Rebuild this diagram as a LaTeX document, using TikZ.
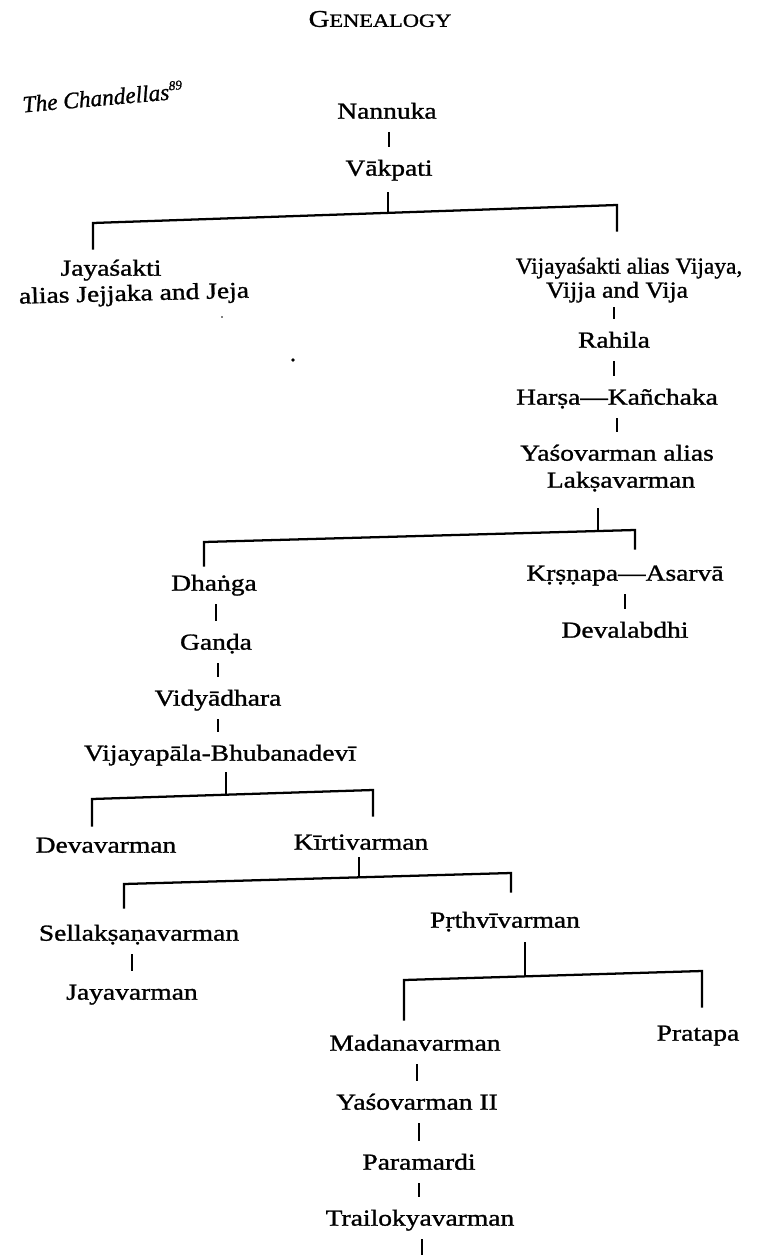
\documentclass[tikz,border=0pt]{standalone}
\usepackage{graphicx}
\usepackage{fontspec}
\setmainfont{Liberation Serif}[FakeStretch=1.2, FakeBold=1.2]
\newfontfamily\plainserif{Liberation Serif}[FakeBold=1.0]
\begin{document}
\begin{tikzpicture}[x=0.75pt,y=-0.75pt,
  person/.style={font=\fontsize{17.2}{18}\selectfont, inner sep=0pt, text height=11.5pt, text depth=0pt},
  link/.style={line width=1.7pt, shorten <=9.8pt, shorten >=9.8pt},
  bline/.style={line width=1.7pt}]
\useasboundingbox (0,0) rectangle (758,1255);

% title
\node[inner sep=0pt] (title) at (380,19) {\fontsize{18}{20}\selectfont G\fontsize{14}{16}\selectfont ENEALOGY};
\node[anchor=base west, rotate=5, inner sep=0pt] (chand) at (23,112.5)
  {\plainserif\itshape\fontsize{17.5}{20}\selectfont The Chandellas\raisebox{7pt}{\fontsize{10}{10}\selectfont 89}};

% people
\node[person] (nannuka) at (387,111) {Nannuka};
\node[person] (vakpati) at (389,168) {Vākpati};
\node[person] (jaya) at (111,268) {Jayaśakti};
\node[person, rotate=1.5] (jayaB) at (134,293) {alias Jejjaka and Jeja};
\node[person] (vija) at (629,266) {\scalebox{0.85}[1]{Vijayaśakti alias Vijaya,}};
\node[person] (vijaB) at (617,290) {\scalebox{0.93}[1]{Vijja and Vija}};
\node[person] (rahila) at (614,340) {Rahila};
\node[person] (harsa) at (617,397) {Harṣa—Kañchaka};
\node[person] (yaso) at (617,453) {Yaśovarman alias};
\node[person] (yasoB) at (621,480) {Lakṣavarman};
\node[person] (dhanga) at (214,583) {Dhaṅga};
\node[person] (ganda) at (216,642) {Ganḍa};
\node[person] (vidya) at (218,698) {Vidyādhara};
\node[person] (vijayapala) at (220,753) {Vijayapāla-Bhubanadevī};
\node[person] (krsna) at (625,573) {Kṛṣṇapa—Asarvā};
\node[person] (devalabdhi) at (625,630) {Devalabdhi};
\node[person] (devavarman) at (106,845) {Devavarman};
\node[person] (kirti) at (361,842) {Kīrtivarman};
\node[person] (sella) at (139,933) {Sellakṣaṇavarman};
\node[person] (jayavarman) at (132,992) {Jayavarman};
\node[person] (prthvi) at (505,920) {Pṛthvīvarman};
\node[person] (madana) at (415,1043) {Madanavarman};
\node[person] (pratapa) at (698,1033) {Pratapa};
\node[person] (yaso2) at (417,1102) {Yaśovarman II};
\node[person] (parama) at (419,1162) {Paramardi};
\node[person] (trailo) at (420,1218) {Trailokyavarman};

% bracket coordinates
\coordinate (c1L) at (93,223);  \coordinate (c1R) at (617,205); \coordinate (j1) at (388,213);
\coordinate (c2L) at (204,542); \coordinate (c2R) at (635,530); \coordinate (j2) at (598,531);
\coordinate (c3L) at (92,799);  \coordinate (c3R) at (373,790); \coordinate (j3) at (226,794.7);
\coordinate (c4L) at (124,884); \coordinate (c4R) at (511,873); \coordinate (j4) at (359,877.3);
\coordinate (c5L) at (404,980); \coordinate (c5R) at (702,971); \coordinate (j5) at (525,976.3);
\coordinate (tend) at (422,1258);

% single lines
\draw[link] (vakpati.north |- nannuka.south) -- (vakpati.north);
\draw[link, shorten <=7pt] (rahila.north |- vijaB.south) -- (rahila.north);
\draw[link] (rahila.south) -- (rahila.south |- harsa.north);
\draw[link] (yaso.north |- harsa.south) -- (yaso.north);
\draw[link] (devalabdhi.north |- krsna.south) -- (devalabdhi.north);
\draw[link] (ganda.north |- dhanga.south) -- (ganda.north);
\draw[link] (vidya.north |- ganda.south) -- (vidya.north);
\draw[link] (vidya.south) -- (vidya.south |- vijayapala.north);
\draw[link] (jayavarman.north |- sella.south) -- (jayavarman.north);
\draw[link] (yaso2.north |- madana.south) -- (yaso2.north);
\draw[link] (parama.north |- yaso2.south) -- (parama.north);
\draw[link] (parama.south) -- (parama.south |- trailo.north);
\draw[link, shorten >=0pt] (trailo.south -| tend) -- (tend);

% brackets
\draw[bline, shorten <=12.4pt] (vakpati.south -| j1) -- (j1);
\draw[bline, shorten <=7.9pt, shorten >=19.9pt] (jaya.north -| c1L) -- (c1L) -- (c1R) -- (vija.north -| c1R);

\draw[bline, shorten <=15.4pt] (yasoB.south -| j2) -- (j2);
\draw[bline, shorten <=6.4pt, shorten >=11.6pt] (dhanga.north -| c2L) -- (c2L) -- (c2R) -- (krsna.north -| c2R);

\draw[bline, shorten <=8.6pt] (vijayapala.south -| j3) -- (j3);
\draw[bline, shorten <=7.9pt, shorten >=13.1pt] (devavarman.north -| c3L) -- (c3L) -- (c3R) -- (kirti.north -| c3R);

\draw[bline, shorten <=5.6pt] (kirti.south -| j4) -- (j4);
\draw[bline, shorten <=12.4pt, shorten >=14.6pt] (sella.north -| c4L) -- (c4L) -- (c4R) -- (prthvi.north -| c4R);

\draw[bline, shorten <=10.9pt] (prthvi.south -| j5) -- (j5);
\draw[bline, shorten <=10.9pt, shorten >=13.1pt] (madana.north -| c5L) -- (c5L) -- (c5R) -- (pratapa.north -| c5R);

% stray marks
\fill (293,360) circle (1.8);
\fill (222,317) circle (0.8);
\end{tikzpicture}
\end{document}
